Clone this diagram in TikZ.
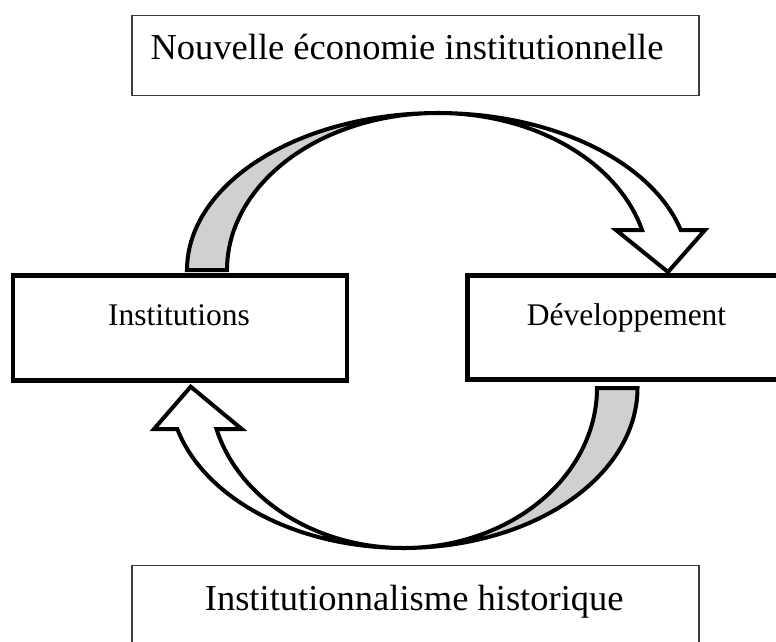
\documentclass[tikz,border=0pt]{standalone}
\usepackage{fontspec}
\setmainfont{Liberation Serif}
\definecolor{backgrey}{RGB}{208,208,208}
\definecolor{thinline}{RGB}{60,60,60}
\begin{document}
\begin{tikzpicture}[x=1pt,y=-1pt,
  thinbox/.style={draw=thinline, line width=1.5pt, fill=white, inner sep=0pt},
  thickbox/.style={draw=black, line width=4.6pt, fill=white, inner sep=0pt},
  bigtext/.style={font=\fontsize{36.5}{40}\selectfont, inner sep=0pt, anchor=base},
  midtext/.style={font=\fontsize{31.5}{36}\selectfont, inner sep=0pt, anchor=base},
  arrowline/.style={draw=black, line width=4pt, line join=miter, miter limit=10}]
\useasboundingbox (0,0) rectangle (776,642);
\clip (0,0) rectangle (776,642);
\fill[white] (0,0) rectangle (776,642);

% boxes
\node[thinbox, minimum width=567pt, minimum height=80pt] (neibox) at (415.4,55.7) {};
\node[bigtext] (neitext) at (407,59.3) {Nouvelle économie institutionnelle};

\node[thickbox, minimum width=334pt, minimum height=105pt] (inst) at (180,328) {};
\node[midtext] (insttext) at (179,325) {Institutions};

\node[thickbox, minimum width=318pt, minimum height=104pt] (dev) at (626.5,327.5) {};
\node[midtext] (devtext) at (626.5,325) {Développement};

\node[thinbox, minimum width=567pt, minimum height=90pt] (hist) at (415.4,610.3) {};
\node[bigtext] (histtext) at (414.2,610.7) {Institutionnalisme historique};

% upper curved arrow (Institutions -> Développement)
\filldraw[arrowline, fill=backgrey]
  plot[domain=180:90, samples=70] ({438+251*cos(\x)},{270-157*sin(\x)})
  -- plot[domain=90:180, samples=70] ({438+211*cos(\x)},{270-157*sin(\x)}) -- cycle;
\filldraw[arrowline, fill=white]
  plot[domain=90:14.76, samples=70] ({438+251*cos(\x)},{270-157*sin(\x)})
  -- (705,230) -- (668,272) -- (616,230)
  -- plot[domain=14.76:90, samples=70] ({438+211*cos(\x)},{270-157*sin(\x)}) -- cycle;

% lower curved arrow (Développement -> Institutions)
\filldraw[arrowline, fill=backgrey]
  plot[domain=0:90, samples=70] ({403.5+234*cos(\x)},{388+160*sin(\x)})
  -- plot[domain=90:0, samples=70] ({403.5+193.5*cos(\x)},{388+160*sin(\x)}) -- cycle;
\filldraw[arrowline, fill=white]
  plot[domain=90:165.15, samples=70] ({403.5+234*cos(\x)},{388+160*sin(\x)})
  -- (154,429) -- (190.7,386.7) -- (241.7,429)
  -- plot[domain=165.15:90, samples=70] ({403.5+193.5*cos(\x)},{388+160*sin(\x)}) -- cycle;
\end{tikzpicture}
\end{document}
